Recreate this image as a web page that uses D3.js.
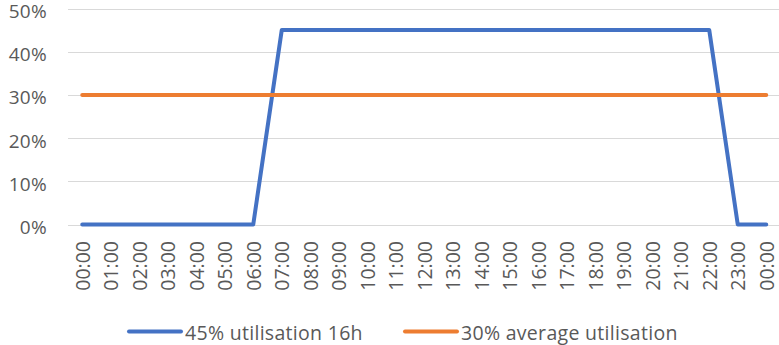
<!DOCTYPE html>
<html>
<head>
<meta charset="utf-8">
<script src="https://cdn.jsdelivr.net/npm/d3@7"></script>
<style>
  html, body { margin: 0; padding: 0; background: #ffffff; }
  svg { display: block; }
  text { font-family: "Open Sans", sans-serif; fill: #595959; }
</style>
</head>
<body>
<svg id="chart" width="779" height="345"></svg>
<script>
// Hourly time slots across one day (ending back at midnight)
const hours = ["00:00","01:00","02:00","03:00","04:00","05:00","06:00","07:00","08:00","09:00",
  "10:00","11:00","12:00","13:00","14:00","15:00","16:00","17:00","18:00","19:00",
  "20:00","21:00","22:00","23:00","00:00"];
// Utilisation (%) when running 16 hours at 45%
const utilisation16h = [0,0,0,0,0,0,0,45,45,45,45,45,45,45,45,45,45,45,45,45,45,45,45,0,0];
// Flat average utilisation (%)
const averageUtilisation = [30,30,30,30,30,30,30,30,30,30,30,30,30,30,30,30,30,30,30,30,30,30,30,30,30];
const yTicks = [0, 10, 20, 30, 40, 50];
const seriesNames = ["45% utilisation 16h", "30% average utilisation"];
const seriesColors = ["#4472C4", "#ED7D31"];

const svg = d3.select("#chart");
const plotLeft = 68, plotRight = 780.5, plotTop = 8.5, plotBottom = 224.5;

const idx = d3.range(hours.length);
const x = d3.scalePoint().domain(idx).range([plotLeft, plotRight]).padding(0.5);
const y = d3.scaleLinear().domain([0, 50]).range([plotBottom, plotTop]);

// Horizontal gridlines
svg.append("g").selectAll("line").data(yTicks).join("line")
  .attr("x1", plotLeft).attr("x2", 779)
  .attr("y1", d => Math.round(y(d)) + 0.5).attr("y2", d => Math.round(y(d)) + 0.5)
  .attr("stroke", "#d9d9d9").attr("stroke-width", 1);

// Y axis labels
svg.append("g").selectAll("text").data(yTicks).join("text")
  .attr("x", 47).attr("y", d => y(d) + 2.5)
  .attr("text-anchor", "end").attr("dominant-baseline", "central")
  .attr("font-size", 19)
  .attr("letter-spacing", 0.3)
  .text(d => d + "%");

// X axis labels, rotated
svg.append("g").selectAll("text").data(idx).join("text")
  .attr("transform", i => `translate(${x(i)},${241}) rotate(-90)`)
  .attr("text-anchor", "end").attr("dominant-baseline", "central")
  .attr("font-size", 19.5)
  .text(i => hours[i]);

// Series lines
const line = d3.line().x((d, i) => x(i)).y(d => y(d));
[utilisation16h, averageUtilisation].forEach((vals, k) => {
  svg.append("path").datum(vals)
    .attr("d", line)
    .attr("fill", "none")
    .attr("stroke", seriesColors[k])
    .attr("stroke-width", 4)
    .attr("stroke-linejoin", "round")
    .attr("stroke-linecap", "round");
});

// Legend
const legendItems = [{x: 127}, {x: 403}];
legendItems.forEach((it, k) => {
  svg.append("line")
    .attr("x1", it.x + 2).attr("x2", it.x + 54)
    .attr("y1", 331.5).attr("y2", 331.5)
    .attr("stroke", seriesColors[k]).attr("stroke-width", 4)
    .attr("stroke-linecap", "round");
  svg.append("text")
    .attr("x", it.x + 58).attr("y", 339.5)
    .attr("font-size", 19.5)
    .attr("letter-spacing", 0.3)
    .text(seriesNames[k]);
});
</script>
</body>
</html>
